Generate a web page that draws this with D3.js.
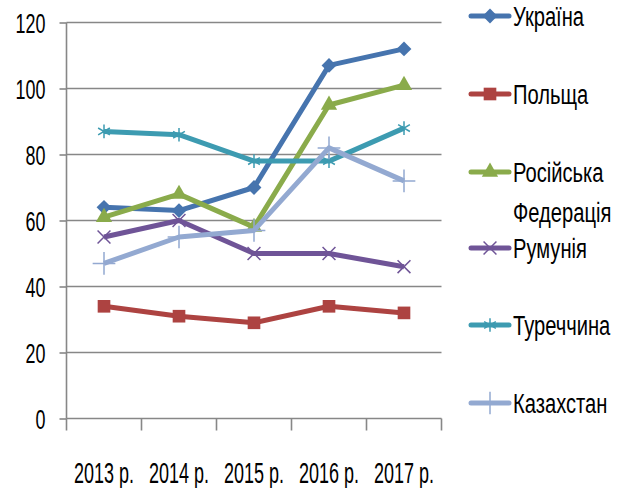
<!DOCTYPE html>
<html>
<head>
<meta charset="utf-8">
<script src="https://cdn.jsdelivr.net/npm/d3@7"></script>
<style>
  body { margin: 0; background: #fff; }
  text { font-family: "Liberation Sans", sans-serif; fill: #000; }
</style>
</head>
<body>
<svg id="chart" width="620" height="488"></svg>
<script>
// chart data
var years = ["2013 р.", "2014 р.", "2015 р.", "2016 р.", "2017 р."];
var ukraine = [64, 63, 70, 107, 112];
var poland = [34, 31, 29, 34, 32];
var russia = [61, 68, 58, 95, 101];
var romania = [55, 60, 50, 50, 46];
var turkey = [87, 86, 78, 78, 88];
var kazakhstan = [47, 55, 57, 82, 72];
var yTicks = [0, 20, 40, 60, 80, 100, 120];

var series = [
  { name: ["Україна"], values: ukraine, color: "#4674ae", marker: "diamond" },
  { name: ["Польща"], values: poland, color: "#ad4341", marker: "square" },
  { name: ["Російська", "Федерація"], values: russia, color: "#8aab4b", marker: "triangle" },
  { name: ["Румунія"], values: romania, color: "#6f5497", marker: "times" },
  { name: ["Туреччина"], values: turkey, color: "#3d9bb1", marker: "star" },
  { name: ["Казахстан"], values: kazakhstan, color: "#93a9d1", marker: "plus" }
];

var svg = d3.select('#chart');
var plotLeft = 66.5, plotRight = 441.5, plotTop = 22.5, plotBottom = 418.5;

var x = d3.scaleBand().domain(years).range([plotLeft, plotRight]);
var y = d3.scaleLinear().domain([0, 120]).range([plotBottom, plotTop]);

// grid
svg.append("g")
  .selectAll("line")
  .data(yTicks.filter(d => d > 0))
  .join("line")
    .attr("x1", plotLeft).attr("x2", plotRight)
    .attr("y1", d => y(d)).attr("y2", d => y(d))
    .attr("stroke", "#878787")
    .attr("stroke-width", 1.6);

// y axis
var yAxis = svg.append("g")
  .attr("transform", "translate(" + plotLeft + ",0)")
  .call(d3.axisLeft(y).tickValues(yTicks).tickSize(7).tickPadding(0).tickFormat(d3.format("d")));
yAxis.select(".domain").attr("stroke", "#878787").attr("stroke-width", 1.6).attr("d", "M0," + plotTop + "V" + plotBottom);
yAxis.selectAll(".tick line").attr("stroke", "#878787").attr("stroke-width", 1.6);
// source font is a tall narrow one, so squeeze the text horizontally
yAxis.selectAll(".tick text")
  .attr("x", null).attr("dy", null)
  .attr("transform", "translate(-21,10) scale(0.64,1)")
  .style("font-size", "28px")
  .attr("fill", "#000");

// x axis
var xAxis = svg.append("g")
  .attr("transform", "translate(0," + plotBottom + ")");
xAxis.append("line")
  .attr("x1", plotLeft).attr("x2", plotRight)
  .attr("stroke", "#878787").attr("stroke-width", 1.6);
var bounds = years.map(d => x(d)).concat([plotRight]);
xAxis.selectAll(".xt")
  .data(bounds)
  .join("line")
    .attr("class", "xt")
    .attr("x1", d => d).attr("x2", d => d)
    .attr("y1", 0).attr("y2", 12)
    .attr("stroke", "#878787").attr("stroke-width", 1.6);
xAxis.selectAll(".xl")
  .data(years)
  .join("text")
    .attr("class", "xl")
    .attr("transform", d => "translate(" + (x(d) + x.bandwidth() / 2) + ",64.5) scale(0.6,1)")
    .attr("text-anchor", "middle")
    .style("font-size", "30px")
    .text(d => d);

function markerPath(type) {
  if (type == "diamond") return d3.symbol(d3.symbolSquare, 110)();
  if (type == "square") return d3.symbol(d3.symbolSquare, 160)();
  if (type == "triangle") return d3.symbol(d3.symbolTriangle, 115)();
  if (type == "times") return d3.symbol(d3.symbolTimes, 110)();
  if (type == "star") return d3.symbol(d3.symbolAsterisk, 130)();
  return d3.symbol(d3.symbolPlus, 170)();
}
function drawMarker(g, type, color) {
  var p = g.append("path").attr("d", markerPath(type));
  if (type == "diamond") p.attr("transform", "rotate(45)");
  if (type == "times" || type == "star" || type == "plus") {
    p.attr("fill", "none").attr("stroke", color).attr("stroke-width", 1.5);
  } else {
    p.attr("fill", color);
  }
}

var line = d3.line()
  .x((d, i) => x(years[i]) + x.bandwidth() / 2)
  .y(d => y(d));

series.forEach(s => {
  svg.append("path")
    .datum(s.values)
    .attr("d", line)
    .attr("fill", "none")
    .attr("stroke", s.color)
    .attr("stroke-width", 5)
    .attr("stroke-linejoin", "round");
  s.values.forEach((v, i) => {
    var g = svg.append("g")
      .attr("transform", "translate(" + (x(years[i]) + x.bandwidth() / 2) + "," + y(v) + ")");
    drawMarker(g, s.marker, s.color);
  });
});

// legend
var legendY = [16, 94, 172, 248, 325, 403];
series.forEach((s, i) => {
  var g = svg.append("g").attr("transform", "translate(471," + legendY[i] + ")");
  g.append("line")
    .attr("x1", 0).attr("x2", 38)
    .attr("stroke", s.color).attr("stroke-width", 5)
    .attr("stroke-linecap", "round");
  var m = g.append("g").attr("transform", "translate(19,0)");
  drawMarker(m, s.marker, s.color);
  s.name.forEach((t, j) => {
    g.append("text")
      .attr("transform", "translate(42," + (10 + j * 40) + ") scale(0.72,1)")
      .style("font-size", "28px")
      .text(t);
  });
});
</script>
</body>
</html>
